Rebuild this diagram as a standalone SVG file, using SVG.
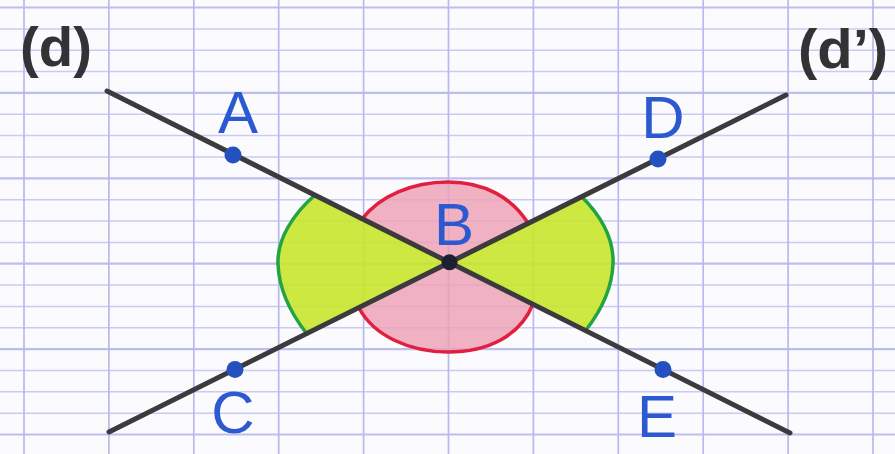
<svg xmlns="http://www.w3.org/2000/svg" width="895" height="454" viewBox="0 0 895 454">
<defs>
<style>
.h{stroke:#cacbf4;stroke-width:1.5}
.hb{stroke:#bdbef0;stroke-width:2.2}
.v{stroke:#b8b9ee;stroke-width:1.7}
.ln{stroke:#3b3b3d;stroke-width:5;stroke-linecap:round;fill:none}
.gf{fill:#c8e62c;fill-opacity:0.9}
.pf{fill:#ee9fb4;fill-opacity:0.8}
.gs{fill:none;stroke:#24a345;stroke-width:3.5;stroke-linecap:round}
.rs{fill:none;stroke:#e21f3f;stroke-width:3.5;stroke-linecap:round}
.pt{fill:#2450c0}
.lbl{font-family:"Liberation Sans",Arial,sans-serif;font-size:60px;fill:#2c58d0;text-anchor:middle}
.nm{font-family:"Liberation Sans",Arial,sans-serif;font-weight:bold;fill:#333335}
</style>
</defs>
<rect x="0" y="0" width="895" height="454" fill="#fbfbfe"/>
<g id="grid">
<line class="hb" x1="0" y1="7.5" x2="895" y2="7.5"/>
<line class="h" x1="0" y1="28.9" x2="895" y2="28.9"/>
<line class="h" x1="0" y1="50.2" x2="895" y2="50.2"/>
<line class="h" x1="0" y1="71.6" x2="895" y2="71.6"/>
<line class="hb" x1="0" y1="92.9" x2="895" y2="92.9"/>
<line class="h" x1="0" y1="114.3" x2="895" y2="114.3"/>
<line class="h" x1="0" y1="135.6" x2="895" y2="135.6"/>
<line class="h" x1="0" y1="157" x2="895" y2="157"/>
<line class="hb" x1="0" y1="178.3" x2="895" y2="178.3"/>
<line class="h" x1="0" y1="199.7" x2="895" y2="199.7"/>
<line class="h" x1="0" y1="221" x2="895" y2="221"/>
<line class="h" x1="0" y1="242.4" x2="895" y2="242.4"/>
<line class="hb" x1="0" y1="263.7" x2="895" y2="263.7"/>
<line class="h" x1="0" y1="285.1" x2="895" y2="285.1"/>
<line class="h" x1="0" y1="306.4" x2="895" y2="306.4"/>
<line class="h" x1="0" y1="327.8" x2="895" y2="327.8"/>
<line class="hb" x1="0" y1="349.1" x2="895" y2="349.1"/>
<line class="h" x1="0" y1="370.5" x2="895" y2="370.5"/>
<line class="h" x1="0" y1="391.8" x2="895" y2="391.8"/>
<line class="h" x1="0" y1="413.2" x2="895" y2="413.2"/>
<line class="hb" x1="0" y1="434.5" x2="895" y2="434.5"/>
<line class="v" x1="24" y1="0" x2="24" y2="454"/>
<line class="v" x1="108.9" y1="0" x2="108.9" y2="454"/>
<line class="v" x1="193.8" y1="0" x2="193.8" y2="454"/>
<line class="v" x1="278.7" y1="0" x2="278.7" y2="454"/>
<line class="v" x1="363.6" y1="0" x2="363.6" y2="454"/>
<line class="v" x1="448.5" y1="0" x2="448.5" y2="454"/>
<line class="v" x1="533.4" y1="0" x2="533.4" y2="454"/>
<line class="v" x1="618.3" y1="0" x2="618.3" y2="454"/>
<line class="v" x1="703.2" y1="0" x2="703.2" y2="454"/>
<line class="v" x1="788.1" y1="0" x2="788.1" y2="454"/>
<line class="v" x1="873" y1="0" x2="873" y2="454"/>
</g>
<g id="angles">
<path class="gf" d="M449.5,262.3 L315,195 C292,215 277,240 278,264 C279,290 292,315 307,334 Z"/>
<path class="gf" d="M449.5,262.3 L582,197 C602,217 614,240 613,264 C612,290 600,312 586,330 Z"/>
<path class="pf" d="M449.5,262.3 L362,219 C380,196 412,182 448,182 C485,182 512,198 528,223 Z"/>
<path class="pf" d="M449.5,262.3 L359,308 C374,336 410,352 448,352 C488,352 520,336 533,304 Z"/>
<path class="gs" d="M315,195 C292,215 277,240 278,264 C279,290 292,315 307,334"/>
<path class="gs" d="M582,197 C602,217 614,240 613,264 C612,290 600,312 586,330"/>
<path class="rs" d="M362,219 C380,196 412,182 448,182 C485,182 512,198 528,223"/>
<path class="rs" d="M359,308 C374,336 410,352 448,352 C488,352 520,336 533,304"/>
</g>
<g id="connectors">
<line id="line-d" class="ln" x1="107" y1="91" x2="790" y2="433"/>
<line id="line-d-prime" class="ln" x1="109" y1="432" x2="786" y2="95"/>
</g>
<g id="label-d"><text class="nm" x="20" y="66" font-size="56" textLength="72" lengthAdjust="spacingAndGlyphs">(d)</text></g>
<g id="label-d-prime"><text class="nm" x="798" y="68" font-size="55" textLength="90" lengthAdjust="spacingAndGlyphs">(d’)</text></g>
<g id="node-A"><circle class="pt" cx="233" cy="155" r="8.5"/><text class="lbl" x="238" y="133">A</text></g>
<g id="node-B"><circle cx="449.5" cy="262.3" r="8" fill="#1c2030"/><text class="lbl" x="454" y="245">B</text></g>
<g id="node-C"><circle class="pt" cx="235" cy="369.5" r="8.5"/><text class="lbl" x="233" y="433">C</text></g>
<g id="node-D"><circle class="pt" cx="658" cy="159" r="8.5"/><text class="lbl" x="663" y="138">D</text></g>
<g id="node-E"><circle class="pt" cx="663" cy="369.5" r="8.5"/><text class="lbl" x="657" y="437">E</text></g>
</svg>
